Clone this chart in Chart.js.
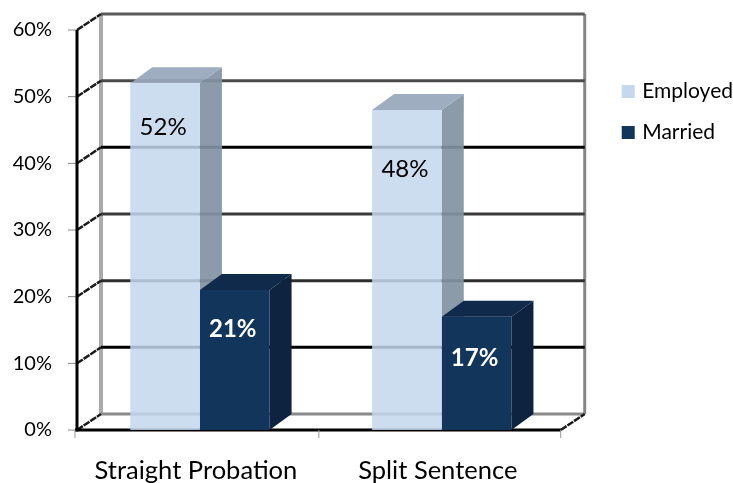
<!DOCTYPE html>
<html>
<head>
<meta charset="utf-8">
<style>
  html, body { margin: 0; padding: 0; background: #fff; }
  canvas { display: block; }
</style>
<script src="https://cdn.jsdelivr.net/npm/chart.js@4/dist/chart.umd.min.js"></script>
</head>
<body>
<canvas id="myChart" width="733" height="483"></canvas>
<script>
const categories = ['Straight Probation', 'Split Sentence'];
const employed = [52, 48];
const married = [21, 17];
const yTicks = [0, 10, 20, 30, 40, 50, 60];

// back wall gridline colours, bottom to top
const gridColors = ['#8a8a8a', '#000', '#2e2e2e', '#3a3a3a', '#000', '#4a4a4a', '#5a5a5a'];
// how far below the bar top each value label sits
const labelDrop = [[44, 59], [39, 42]];

const wallX = 24, wallY = 16;   // depth of the floor and walls
const barX = 22, barY = 16;     // depth of the bars

function line(ctx, x1, y1, x2, y2, color, width, dash) {
  ctx.save();
  ctx.strokeStyle = color;
  ctx.lineWidth = width;
  if (dash) ctx.setLineDash(dash);
  ctx.beginPath();
  ctx.moveTo(x1, y1);
  ctx.lineTo(x2, y2);
  ctx.stroke();
  ctx.restore();
}

function poly(ctx, pts, color) {
  ctx.fillStyle = color;
  ctx.beginPath();
  pts.forEach((p, i) => i ? ctx.lineTo(p[0], p[1]) : ctx.moveTo(p[0], p[1]));
  ctx.closePath();
  ctx.fill();
}

function drawFaces(chart, index, topColor, sideColor) {
  const ctx = chart.ctx;
  chart.getDatasetMeta(index).data.forEach(bar => {
    const l = bar.x - bar.width / 2, r = bar.x + bar.width / 2;
    poly(ctx, [[r, bar.y], [r + barX, bar.y - barY], [r + barX, bar.base - barY], [r, bar.base]], sideColor);
    poly(ctx, [[l, bar.y], [l + barX, bar.y - barY], [r + barX, bar.y - barY], [r, bar.y]], topColor);
  });
}

const box3d = {
  id: 'box3d',
  afterLayout(chart) {
    // keep the legend out to the right of the back wall
    const legend = chart.legend;
    legend.left += 42;
    legend.right += 42;
    legend.top += 31;
    legend.bottom += 31;
  },
  beforeDatasetsDraw(chart) {
    const ctx = chart.ctx, y = chart.scales.y;
    const left = chart.chartArea.left - 2, right = chart.chartArea.right - 2;
    const zero = y.getPixelForValue(0), top = y.getPixelForValue(60);

    // walls
    line(ctx, left + wallX, top - wallY, left + wallX, zero - wallY, '#aaa', 4);
    line(ctx, right + wallX, top - wallY, right + wallX, zero - wallY, '#858585', 3);

    yTicks.forEach((v, i) => {
      const py = y.getPixelForValue(v);
      line(ctx, left + wallX, py - wallY, right + wallX, py - wallY, gridColors[i], 3);
      line(ctx, left, py, left + wallX, py - wallY, '#1a1a1a', 2.5, [7, 1]);
      line(ctx, left - 9, py, left, py, '#888', 1);
    });

    // front axes
    line(ctx, right, zero, right + wallX, zero - wallY, '#1a1a1a', 2.5, [7, 1]);
    line(ctx, left, top, left, zero + 1.5, '#000', 3);
    line(ctx, left - 2, zero, right, zero, '#000', 3);
    [0, 1, 2].forEach(i => {
      const px = left - (i === 0 ? 2 : 0) + i * (right - left) / 2;
      line(ctx, px, zero, px, zero + 8, '#999', 1);
    });

    drawFaces(chart, 0, 'rgba(150,166,186,0.92)', 'rgba(130,146,163,0.92)');
  },
  afterDatasetsDraw(chart) {
    const ctx = chart.ctx;
    drawFaces(chart, 1, '#0f2a4b', '#0d2340');

    ctx.save();
    ctx.textAlign = 'center';
    ctx.textBaseline = 'middle';
    [0, 1].forEach(d => {
      ctx.font = (d ? 'bold ' : '') + '24px Lato';
      ctx.fillStyle = d ? '#fff' : '#000';
      chart.getDatasetMeta(d).data.forEach((bar, i) => {
        const v = chart.data.datasets[d].data[i];
        ctx.fillText(v + '%', bar.x - 2, bar.y + labelDrop[d][i]);
      });
    });
    ctx.restore();
  }
};

new Chart(document.getElementById('myChart').getContext('2d'), {
  type: 'bar',
  data: {
    labels: categories,
    datasets: [
      { label: 'Employed', data: employed, backgroundColor: 'rgba(194,215,236,0.85)', borderWidth: 0 },
      { label: 'Married', data: married, backgroundColor: '#12355b', borderWidth: 0 }
    ]
  },
  plugins: [box3d],
  options: {
    responsive: false,
    animation: false,
    layout: { padding: { top: 30, right: 32, bottom: 0, left: 0 } },
    datasets: { bar: { categoryPercentage: 0.576, barPercentage: 1 } },
    plugins: {
      tooltip: { enabled: false },
      legend: {
        position: 'right',
        align: 'start',
        labels: {
          boxWidth: 7,
          boxHeight: 7,
          padding: 20,
          color: '#000',
          font: { family: 'Lato', size: 21 },
          // thick outline gives the 13px swatch with a tighter gap to the text
          generateLabels: chart => chart.data.datasets.map((ds, i) => ({
            text: ds.label,
            datasetIndex: i,
            fillStyle: i ? '#12355b' : '#c6d8ef',
            strokeStyle: i ? '#12355b' : '#c6d8ef',
            lineWidth: 6,
            fontColor: '#000'
          }))
        }
      }
    },
    scales: {
      x: {
        grid: { display: false, drawTicks: false },
        border: { display: false },
        afterFit(s) { s.height = 53; },
        ticks: { color: '#000', padding: 25, labelOffset: -4, maxRotation: 0, font: { family: 'Lato', size: 25.5 } }
      },
      y: {
        min: 0,
        max: 60,
        grid: { display: false, drawTicks: false },
        border: { display: false },
        afterFit(s) { s.width = 79; s.paddingTop = 0; s.paddingBottom = 0; },
        ticks: {
          stepSize: 10,
          color: '#000',
          padding: 27,
          font: { family: 'Lato', size: 20 },
          callback: v => v + '%'
        }
      }
    }
  }
});
</script>
</body>
</html>
